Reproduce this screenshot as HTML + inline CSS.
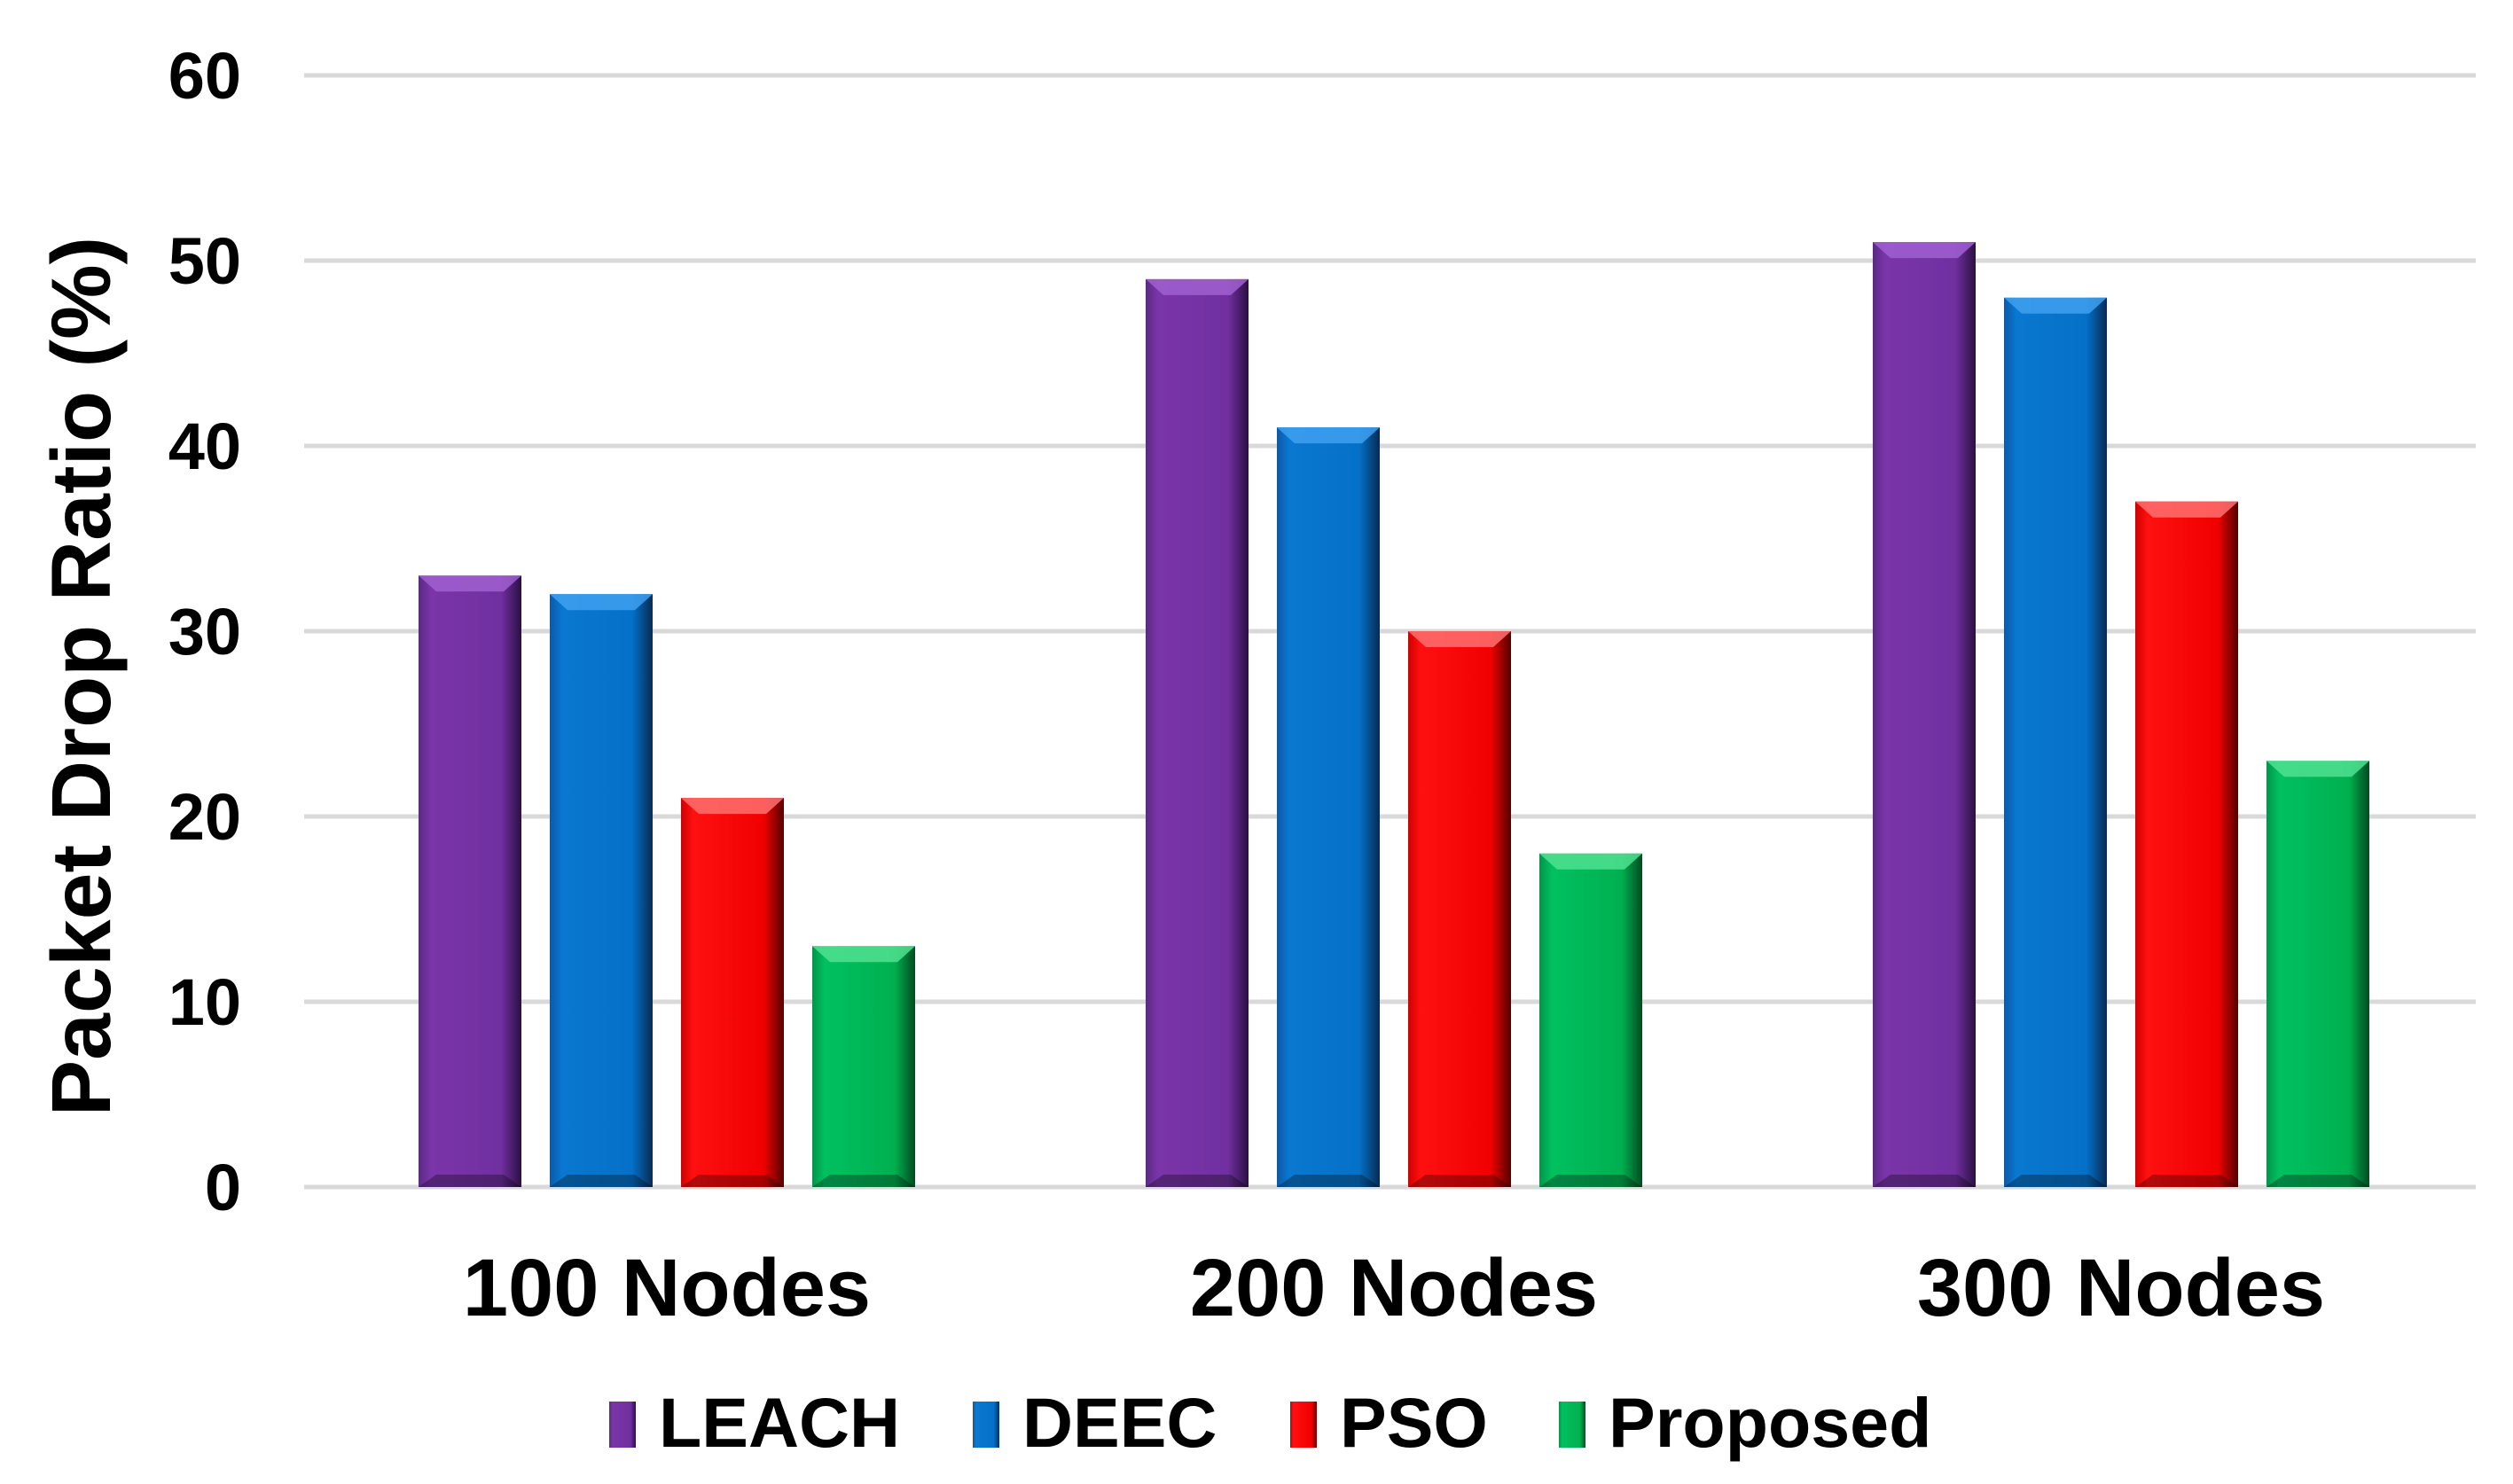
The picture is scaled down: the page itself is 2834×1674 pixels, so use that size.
<!DOCTYPE html>
<html><head><meta charset="utf-8"><style>
html,body{margin:0;padding:0;background:#fff;}
svg{display:block;font-family:"Liberation Sans",Arial,sans-serif;font-weight:bold;}
</style></head><body>
<svg id="chart" width="2834" height="1674" viewBox="0 0 2834 1674" xmlns="http://www.w3.org/2000/svg">
<defs>
<linearGradient id="gLEACH" x1="0" x2="1"><stop offset="0" stop-color="#5a2a85"/><stop offset="0.12" stop-color="#7a35a8"/><stop offset="0.8" stop-color="#7030a0"/><stop offset="1" stop-color="#2a1040"/></linearGradient>
<linearGradient id="gDEEC" x1="0" x2="1"><stop offset="0" stop-color="#0a5aa8"/><stop offset="0.12" stop-color="#0a78d0"/><stop offset="0.8" stop-color="#0570c8"/><stop offset="1" stop-color="#0a2a50"/></linearGradient>
<linearGradient id="gPSO" x1="0" x2="1"><stop offset="0" stop-color="#d00000"/><stop offset="0.12" stop-color="#ff1010"/><stop offset="0.8" stop-color="#f00000"/><stop offset="1" stop-color="#500000"/></linearGradient>
<linearGradient id="gProposed" x1="0" x2="1"><stop offset="0" stop-color="#00954a"/><stop offset="0.12" stop-color="#00c060"/><stop offset="0.8" stop-color="#00b050"/><stop offset="1" stop-color="#004a20"/></linearGradient>
</defs>
<g id="grid"></g><g id="bars"></g><g id="labels"></g><g id="legend"></g>
<text transform="translate(124,763) rotate(-90)" text-anchor="middle" font-size="95" fill="#000">Packet Drop Ratio (%)</text>
</svg>
<script>
const categories = ["100 Nodes","200 Nodes","300 Nodes"];
const seriesNames = ["LEACH","DEEC","PSO","Proposed"];
const leach = [33,49,51];
const deec = [32,41,48];
const pso = [21,30,37];
const proposed = [13,18,23];
const yTicks = [0,10,20,30,40,50,60];
const seriesValues = [leach,deec,pso,proposed];
const tops = ["#a060d0","#40a0f0","#ff7070","#50e090"];
const NS="http://www.w3.org/2000/svg";
const x0=343,x1=2792,yBase=1339,yTop=85,yMax=60;
const y = v => yBase - (yBase-yTop)*v/yMax;
const groupStart = i => 472 + i*820;
const barW=116, barStep=148;
function mk(tag,attrs,parent){const e=document.createElementNS(NS,tag);for(const k in attrs)e.setAttribute(k,attrs[k]);parent.appendChild(e);return e;}
const grid=document.getElementById('grid'),bars=document.getElementById('bars'),labels=document.getElementById('labels'),legend=document.getElementById('legend');
yTicks.forEach(t=>{
  const l=mk('line',{x1:x0,x2:x1,y1:y(t),y2:y(t),stroke:'#d9d9d9','stroke-width':5},grid);
  
  
  const tx=mk('text',{x:272,y:y(t)+26,'text-anchor':'end','font-size':74,fill:'#000'},labels);
  tx.textContent=t;
  
  
});
categories.forEach((c,i)=>{
  seriesValues.forEach((vals,s)=>{
    const bx=groupStart(i)+s*barStep, by=y(vals[i]), h=yBase-by;
    const g=mk('g',{},bars);
    
    
    mk('rect',{x:bx,y:by,width:barW,height:h,fill:'url(#g'+seriesNames[s]+')'},g);
    mk('polygon',{points:`${bx},${by} ${bx+barW},${by} ${bx+barW-20},${by+18} ${bx+20},${by+18}`,fill:tops[s],opacity:0.85},g);
    mk('polygon',{points:`${bx},${yBase} ${bx+barW},${yBase} ${bx+barW-20},${yBase-14} ${bx+20},${yBase-14}`,fill:'#000',opacity:0.3},g);
  });
  const tx=mk('text',{x:groupStart(i)+(3*barStep+barW)/2,y:1484,'text-anchor':'middle','font-size':92,fill:'#000'},labels);
  tx.textContent=c;
  
  
});
const legX=[687,1097,1455,1758];
seriesNames.forEach((n,s)=>{
  const g=mk('g',{},legend);
  
  
  mk('rect',{x:legX[s],y:1581,width:30,height:52,fill:'url(#g'+n+')'},g);
  const t=mk('text',{x:legX[s]+56,y:1632,'font-size':79,fill:'#000'},g);
  t.textContent=n;
});
</script>
</body></html>
